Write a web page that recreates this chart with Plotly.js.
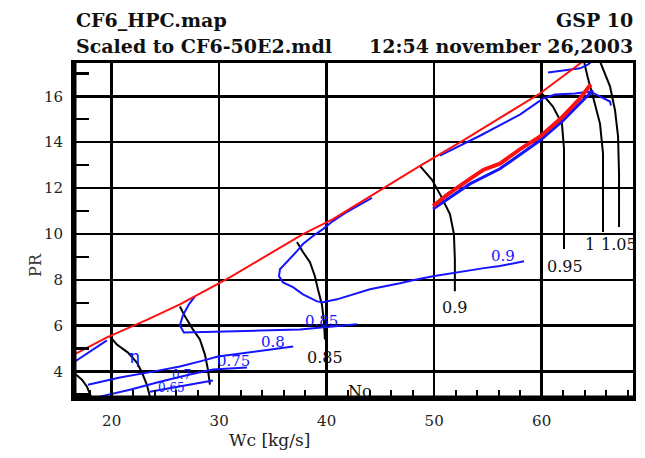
<!DOCTYPE html>
<html>
<head>
<meta charset="utf-8">
<script src="https://cdn.plot.ly/plotly-3.0.1.min.js"></script>
<style>html,body{margin:0;padding:0;background:#fff;}#chart{width:645px;height:458px;}</style>
</head>
<body>
<div id="chart"></div>
<script>
// ---- Surge line (red) ----
const surgeWc = [16.49, 19.56, 23.38, 26.35, 31.0, 37.8, 40.59, 48.68, 52.68, 59.84, 63.84];
const surgePR = [4.74, 5.49, 6.28, 6.93, 8.11, 9.99, 10.65, 12.97, 14.07, 16.12, 17.52];

// ---- Operating points (thick red) and the blue line under it ----
const opWc = [49.9, 51.2, 53.33, 54.6, 56.12, 58.0, 59.84, 61.98, 63.56, 64.58];
const opPR = [11.22, 11.70, 12.40, 12.80, 13.06, 13.70, 14.24, 15.12, 15.90, 16.52];
const opBlueWc = [49.9, 53.33, 56.12, 59.84, 61.98, 63.56, 64.77];
const opBluePR = [11.09, 12.18, 12.84, 14.07, 14.94, 15.68, 16.26];

// ---- Speed lines Nc (black) ----
const n070Wc = [16.59, 17.24, 17.71, 18.08];
const n070PR = [3.91, 3.65, 3.34, 2.91];
const n075Wc = [19.84, 20.49, 21.52, 22.35, 22.82, 23.28, 23.56];
const n075PR = [5.53, 5.18, 4.83, 4.39, 3.96, 3.43, 2.91];
const n080Wc = [26.35, 26.82, 27.56, 28.21, 28.68, 28.96, 29.14];
const n080PR = [6.84, 6.41, 5.84, 5.40, 4.74, 4.09, 3.43];
const n085Wc = [37.24, 37.80, 38.45, 38.91, 39.19, 39.56, 39.75, 39.84];
const n085PR = [9.65, 9.21, 8.77, 8.16, 7.59, 6.93, 6.19, 5.40];
const n090Wc = [48.68, 49.80, 50.63, 51.47, 51.84, 51.93, 51.93];
const n090PR = [12.97, 12.36, 11.66, 10.87, 10.0, 8.90, 7.50];
const n095Wc = [59.94, 61.05, 61.89, 62.08, 62.08, 62.08];
const n095PR = [16.17, 15.55, 14.81, 13.72, 11.53, 9.34];
const n100Wc = [63.94, 64.31, 64.87, 65.43, 65.71, 65.71];
const n100PR = [17.52, 16.78, 15.82, 14.81, 13.50, 10.08];
const n105Wc = [65.43, 66.36, 66.83, 67.11, 67.20, 67.20];
const n105PR = [17.52, 16.43, 15.38, 14.24, 12.62, 10.30];

// ---- Efficiency contours (blue) ----
const e090Wc = [58.36, 57.43, 56.12, 54.64, 52.12, 49.89, 48.03, 46.82, 44.03, 42.45, 40.96, 39.66, 39.10, 37.80, 36.87, 35.94, 35.57, 35.66, 36.31, 37.24, 37.80, 38.73, 39.66, 40.59, 41.70, 43.10, 44.21];
const e090PR = [8.81, 8.73, 8.60, 8.51, 8.33, 8.16, 7.98, 7.85, 7.59, 7.37, 7.15, 7.02, 7.06, 7.37, 7.68, 7.89, 8.16, 8.46, 8.77, 9.25, 9.56, 9.91, 10.21, 10.56, 10.91, 11.26, 11.57];
const e090uWc = [50.54, 54.26, 57.98, 60.12, 61.24, 63.10, 64.5, 65.43, 66.36, 66.45];
const e090uPR = [13.41, 14.28, 15.20, 15.90, 16.08, 16.12, 16.21, 15.99, 15.77, 15.60];
const e090tWc = [60.6, 62.18, 63.58, 64.33, 64.79];
const e090tPR = [17.04, 17.13, 17.22, 17.39, 17.57];
const e085Wc = [42.82, 40.30, 37.51, 33.79, 31.0, 27.75, 26.72, 26.35, 26.63, 27.19, 27.75];
const e085PR = [6.06, 5.97, 5.84, 5.79, 5.75, 5.71, 5.71, 6.01, 6.45, 6.93, 7.28];
const e080Wc = [36.89, 35.64, 33.14, 29.89, 28.49, 26.35, 23.84, 20.77, 17.80];
const e080PR = [5.09, 5.01, 4.88, 4.66, 4.48, 4.22, 4.0, 3.74, 3.43];
const e075Wc = [32.59, 29.42, 27.28, 24.49, 21.70, 18.91];
const e075PR = [4.18, 4.09, 3.87, 3.56, 3.21, 2.91];
const e070Wc = [23.56, 26.35, 29.42];
const e070PR = [3.12, 3.34, 3.61];
const e065Wc = [16.59, 17.98, 19.56];
const e065PR = [4.44, 4.88, 5.36];

// ---- Labels ----
const speedLabels = ["0.85", "0.9", "0.95", "1", "1.05"];
const speedLabelWc = [39.84, 51.93, 62.17, 65.15, 65.38];
const speedLabelPR = [4.61, 6.80, 8.60, 9.56, 9.56];
const effLabels = ["0.9", "0.85", "0.8", "0.75", "η", "0.7", "0.65"];
const effLabelWc = [56.4, 39.56, 35.0, 31.3, 22.16, 26.54, 25.6];
const effLabelPR = [9.03, 6.19, 5.27, 4.48, 4.66, 3.87, 3.30];
const xTicks = [20, 30, 40, 50, 60];
const yTicks = [4, 6, 8, 10, 12, 14, 16];

const RED = '#ff1010', BLUE = '#1414ff', BLK = '#000000';
function ln(x, y, color, w) {
  return {x: x, y: y, type: 'scatter', mode: 'lines', line: {color: color, width: w, shape: 'linear'}, hoverinfo: 'skip', showlegend: false, cliponaxis: true};
}
const traces = [
  ln(n070Wc, n070PR, BLK, 2), ln(n075Wc, n075PR, BLK, 2), ln(n080Wc, n080PR, BLK, 2),
  ln(n085Wc, n085PR, BLK, 2), ln(n090Wc, n090PR, BLK, 2), ln(n095Wc, n095PR, BLK, 2),
  ln(n100Wc, n100PR, BLK, 2), ln(n105Wc, n105PR, BLK, 2),
  ln(e090Wc, e090PR, BLUE, 2), ln(e090uWc, e090uPR, BLUE, 2), ln(e090tWc, e090tPR, BLUE, 2),
  ln(e085Wc, e085PR, BLUE, 2), ln(e080Wc, e080PR, BLUE, 2), ln(e075Wc, e075PR, BLUE, 2),
  ln(e070Wc, e070PR, BLUE, 2), ln(e065Wc, e065PR, BLUE, 2),
  ln(opBlueWc, opBluePR, BLUE, 3),
  ln(surgeWc, surgePR, RED, 2),
  ln(opWc, opPR, RED, 4)
];

const serif = 'DejaVu Serif, Liberation Serif, serif';
const ann = [];
speedLabels.forEach((t, i) => ann.push({x: speedLabelWc[i], y: speedLabelPR[i], xref: 'x', yref: 'y', text: t, showarrow: false,
  xanchor: (i === 3 ? 'right' : (i === 4 ? 'left' : 'center')), yanchor: 'middle', font: {family: serif, size: 16, color: '#111'}}));
effLabels.forEach((t, i) => ann.push({x: effLabelWc[i], y: effLabelPR[i], xref: 'x', yref: 'y', text: t, showarrow: false,
  xanchor: 'center', yanchor: 'middle', font: {family: serif, size: (i >= 5 ? 12 : (i === 4 ? 18 : 15)), color: BLUE}}));
ann.push({x: 43.1, y: 3.15, xref: 'x', yref: 'y', xanchor: 'center', yanchor: 'middle', text: 'Nc', showarrow: false, font: {family: serif, size: 16, color: '#111'}});
// header
ann.push({x: 0, y: 1.128, xref: 'paper', yref: 'paper', xanchor: 'left', yanchor: 'middle', text: '<b>CF6_HPC.map</b>', showarrow: false, font: {family: serif, size: 19, color: '#111'}});
ann.push({x: 1.004, y: 1.128, xref: 'paper', yref: 'paper', xanchor: 'right', yanchor: 'middle', text: '<b>GSP 10</b>', showarrow: false, font: {family: serif, size: 19, color: '#111'}});
ann.push({x: 0, y: 1.051, xref: 'paper', yref: 'paper', xanchor: 'left', yanchor: 'middle', text: '<b>Scaled to CF6-50E2.mdl</b>', showarrow: false, font: {family: serif, size: 19, color: '#111'}});
ann.push({x: 1.004, y: 1.051, xref: 'paper', yref: 'paper', xanchor: 'right', yanchor: 'middle', text: '<b>12:54 november 26,2003</b>', showarrow: false, font: {family: serif, size: 19, color: '#111'}});
// axis titles
ann.push({x: -0.07, y: 0.397, xref: 'paper', yref: 'paper', xanchor: 'center', yanchor: 'middle', text: 'PR', textangle: -90, showarrow: false, font: {family: serif, size: 16, color: '#3a3a3a'}});
ann.push({x: 0.3506, y: -0.125, xref: 'paper', yref: 'paper', xanchor: 'center', yanchor: 'middle', text: 'Wc [kg/s]', showarrow: false, font: {family: serif, size: 17, color: '#222'}});

const layout = {
  width: 645, height: 458, autosize: false,
  margin: {l: 74, r: 12, t: 63, b: 60, pad: 0},
  paper_bgcolor: '#ffffff', plot_bgcolor: '#ffffff',
  showlegend: false,
  xaxis: {
    range: [16.5, 68.5], tickmode: 'array', tickvals: xTicks, ticktext: xTicks.map(String),
    showgrid: true, gridcolor: BLK, gridwidth: 2.5, zeroline: false,
    showline: true, linecolor: BLK, linewidth: 3, mirror: true, ticks: '',
    ticklabelstandoff: 7,
    tickfont: {family: serif, size: 15, color: '#222'},
    minor: {tick0: 0, dtick: 2, ticks: 'inside', ticklen: 8, tickwidth: 2, tickcolor: BLK, showgrid: false}
  },
  yaxis: {
    range: [2.85, 17.45], tickmode: 'array', tickvals: yTicks, ticktext: yTicks.map(String),
    showgrid: true, gridcolor: BLK, gridwidth: 2.5, zeroline: false,
    showline: true, linecolor: BLK, linewidth: 3, mirror: true, ticks: '',
    ticklabelstandoff: 5,
    tickfont: {family: serif, size: 15, color: '#222'},
    minor: {tick0: 1, dtick: 2, ticks: 'inside', ticklen: 15, tickwidth: 2.5, tickcolor: BLK, showgrid: false}
  },
  shapes: [
    {type: 'line', xref: 'paper', yref: 'paper', x0: 0, x1: 0, y0: 0, y1: 1, line: {color: BLK, width: 5}, layer: 'above'},
    {type: 'line', xref: 'paper', yref: 'paper', x0: 0, x1: 1, y0: 0, y1: 0, line: {color: BLK, width: 5}, layer: 'above'}
  ],
  annotations: ann
};
Plotly.newPlot('chart', traces, layout, {displayModeBar: false, staticPlot: true});
</script>
</body>
</html>
